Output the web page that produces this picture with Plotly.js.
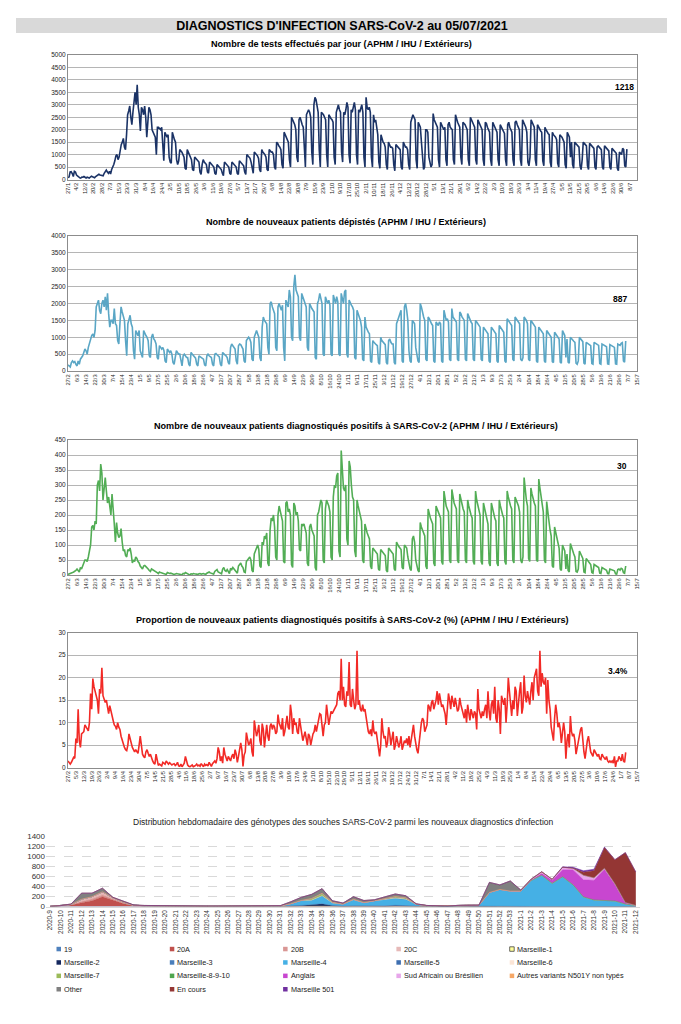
<!DOCTYPE html>
<html><head><meta charset="utf-8">
<script src="https://cdn.plot.ly/plotly-3.0.1.min.js"></script>
<style>html,body{margin:0;padding:0;background:#fff}#chart{width:681px;height:1024px}</style>
</head><body><div id="chart"></div>
<script>
// ---------- DATA ----------
const testsStart = '2020-01-27';
const tests = [
80,100,300,310,240,120,330, 300,180,120,110,70,60,100, 90,120,80,60,90,70,60, 100,130,110,90,70,120,150,
200,210,180,170,190,150,250, 350,380,300,250,330,220,400, 480,600,750,950,1000,800,900, 1200,1400,1500,1650,1300,1200,1800,
2600,2750,2950,2500,2200,2700,3000, 3500,3000,3800,2900,2600,1950,2900, 2800,2600,2950,2500,1700,2300,2900, 2800,2600,2000,1900,1800,1700,1000,
2100,2100,2050,2000,2100,1100,750, 1900,1800,1700,1800,900,700,650, 1900,1700,1600,1500,800,600,750, 1200,1150,1100,1000,900,450,400,
1200,1100,1000,900,800,400,350, 900,850,800,750,700,300,200, 600,800,700,650,600,300,250, 700,650,600,550,500,250,200,
600,550,500,450,400,250,150, 700,650,600,550,500,250,200, 700,650,600,550,500,250,200, 750,700,650,600,550,300,200,
1000,950,900,850,700,350,250, 1100,1050,1000,950,850,400,300, 1200,1100,1050,1000,900,400,350, 1200,1150,1100,1100,1000,500,400,
1500,1450,1350,1300,1200,600,450, 1900,1800,1700,1650,1500,800,500, 2500,2400,2300,2200,2000,900,700, 2400,2500,2300,2200,2100,1000,500,
2600,2700,2800,2700,2500,1100,600, 3000,3300,3200,2900,2700,1200,500, 2700,2650,2600,2500,2400,1000,500, 2600,2500,2450,2400,2300,900,600,
2700,2900,3000,2800,2700,1100,700, 2700,2600,2800,3100,2900,1000,650, 2800,2700,2900,3100,2800,1000,600, 2800,2700,2900,3000,2700,900,500,
3300,2900,2800,2900,2700,900,500, 2600,2300,2400,2000,1800,700,450, 1800,1600,1500,1450,1300,600,400, 1500,1400,1300,1300,1250,600,350,
1400,1350,1300,1250,1200,500,400, 1500,1400,1300,1300,1200,600,400, 2300,2500,2600,2500,2400,800,450, 2300,2200,2100,1500,800,400,500,
2000,2000,1900,900,700,500,600, 2650,2400,2300,2200,2100,800,500, 2300,2200,2100,2000,2100,800,550, 2200,2300,2100,2050,2000,800,600,
2600,2400,2300,2200,2100,900,600, 2300,2250,2200,2100,2000,800,550, 2500,2400,2300,2200,2100,800,600, 2400,2300,2200,2100,2000,800,550,
2300,2250,2100,2000,1900,800,550, 2300,2200,2100,2000,1900,800,550, 2200,2100,2000,1950,1850,800,550, 2200,2300,2100,2000,1900,800,550,
2300,2350,2200,2100,2000,800,550, 2400,2300,2200,2100,1900,700,550, 900,2400,2300,2200,2100,800,550, 2200,2100,2000,1950,1900,750,550,
2100,2000,1900,1850,1800,700,500, 1900,1800,1750,1700,1600,650,500, 1800,1750,1700,1600,1500,600,450, 1900,1800,1700,900,1500,600,450,
1500,1450,1400,1350,1300,550,400, 800,1500,1450,1400,1350,550,400, 1450,1400,1350,1300,1250,500,400, 1300,1350,1300,1250,1200,500,400,
1350,1300,1250,1200,1150,500,400, 1250,1200,1150,1100,1050,450,350, 1100,1050,1000,1250,1200,550,500,
1218];

const dailyStart = '2020-02-27';
const patients = [
180,150,120,250,
300,250,280,200,150,300,200, 350,400,450,550,650,600,500, 700,850,950,1050,1100,1000,1200, 1900,2000,2100,1800,1700,2000,2100,
1900,2200,1800,2300,1700,1300,1500, 1500,1400,1850,1400,1350,900,800, 1400,1900,1750,1600,1500,900,450, 1400,1500,1650,1400,1300,600,350,
1200,1100,1050,1200,600,500,400, 1200,1100,1050,1000,900,450,400, 1000,1100,950,900,800,400,350, 750,700,650,700,600,300,250,
650,600,550,600,500,250,200, 400,600,550,500,500,250,150, 450,500,450,400,400,200,150, 550,500,450,400,380,200,150,
450,420,400,380,350,180,150, 450,500,450,420,400,200,150, 500,520,480,450,420,200,150, 550,500,480,450,400,250,200,
700,800,750,700,650,300,200, 750,800,780,700,650,300,250, 900,950,1000,950,850,350,300, 1000,1150,1200,1100,1000,400,300,
1300,1600,1500,1450,1400,700,500, 2000,2050,1900,1800,1700,700,600, 1900,2000,1900,1800,1950,700,300, 2100,2000,1900,2400,2200,1000,900,
2500,2850,2400,2300,2200,1000,900, 2300,2200,2100,2000,1900,700,600, 2000,1900,1850,1800,1750,400,350, 2000,2100,2300,2100,2000,500,450,
2200,2100,2000,2100,1950,500,450, 2250,2100,2000,2200,2050,500,450, 2300,2100,2000,2350,2400,500,400, 2100,2000,1950,1900,1800,400,350,
1800,1700,1600,1500,1300,350,300, 1600,1300,1200,1150,1100,300,250, 900,850,800,780,750,250,200, 1000,900,850,800,780,250,200,
900,950,850,800,800,250,200, 1400,1500,1600,1700,1800,300,250, 1900,2000,1800,1500,600,300,250, 1500,1450,1400,700,400,300,250,
2000,1900,1700,1600,1500,350,300, 1600,1550,1450,1400,1350,300,250, 1450,1400,1350,1450,1400,300,250, 1800,1600,1500,1550,1450,350,300,
1850,1600,1550,1500,1450,350,300, 1750,1700,1600,1550,1500,350,300, 1700,1600,1500,1450,1400,350,300, 1500,1450,1400,1350,1300,350,300,
1300,1250,1200,1150,1100,300,250, 1300,1250,1200,1150,1100,300,250, 1350,1300,1250,1200,1150,300,250, 1550,1500,1450,1400,1350,350,300,
1600,1550,1500,1450,1400,350,300, 400,1600,1550,1500,1400,350,300, 1500,1450,1400,1350,1300,300,250, 1300,1250,1200,1150,1100,300,250,
1200,1150,1100,1050,1000,280,250, 1150,1100,1050,1000,950,260,230, 1200,1100,1050,400,950,260,230, 1000,950,900,880,850,230,200,
300,1000,950,900,870,230,200, 850,820,800,780,750,220,200, 850,820,800,780,760,220,200, 800,780,760,740,720,210,200,
780,760,740,720,700,210,200, 800,780,760,820,840,300,260,
887];

const positives = [
2,3,5,5,
8,10,12,15,20,15,10, 25,20,30,45,50,50,45, 60,80,100,160,165,150,180, 170,300,315,280,370,340,250,
300,325,280,240,260,220,200, 270,230,170,110,175,140,125, 130,155,110,80,85,65,60, 85,80,90,70,40,50,45,
60,55,45,40,30,25,20, 30,32,28,25,20,15,12, 20,18,15,12,10,8,5, 10,8,7,6,5,3,2,
8,6,5,6,4,3,2, 3,5,4,3,4,2,1, 5,4,8,5,3,2,1, 4,3,5,4,3,2,2,
4,5,3,4,5,3,2, 6,8,10,7,6,5,3, 12,15,18,10,8,5,4, 20,25,15,12,18,8,5,
22,18,25,20,15,8,6, 30,35,40,30,25,10,8, 45,50,55,60,50,15,10, 70,80,90,100,85,30,25,
110,100,130,120,140,40,30, 150,190,180,200,160,60,50, 200,230,210,190,180,45,40, 240,245,210,220,200,35,25,
240,230,200,210,180,85,80, 170,165,170,150,140,40,30, 160,170,150,140,130,25,15, 200,210,230,250,240,50,40,
220,250,240,230,210,60,50, 260,300,290,330,340,80,60, 415,330,290,280,300,120,100, 380,360,300,260,250,80,60,
250,230,210,200,180,50,40, 170,150,140,130,120,30,20, 90,85,80,75,70,20,15, 85,80,75,70,65,15,10,
90,85,80,75,70,20,15, 110,100,95,90,85,25,20, 100,95,90,60,30,20,15, 120,130,110,50,30,15,10,
175,160,150,140,130,30,20, 220,200,190,180,170,40,30, 230,220,210,200,190,45,35, 280,250,230,220,210,50,40,
285,260,240,230,220,50,40, 270,250,230,220,210,50,40, 250,230,210,200,190,45,35, 280,250,230,210,200,45,35,
240,220,200,180,170,40,30, 240,220,200,190,180,40,30, 250,230,210,200,190,45,35, 280,260,240,230,220,50,40,
260,250,240,230,210,50,40, 60,325,280,250,230,55,45, 290,270,250,240,230,50,45, 320,290,260,230,210,50,40,
245,220,180,150,130,30,25, 160,140,120,100,90,20,15, 100,90,80,20,70,15,10, 105,90,80,70,60,12,10,
20,80,70,60,55,10,8, 55,50,45,40,35,8,6, 35,32,30,28,25,6,5, 25,22,20,18,16,5,4,
20,18,16,15,14,4,3, 18,20,16,22,20,8,6,
30];

const positivity = [
1.5,1.0,0.8,1.2,
2.0,2.3,2.1,6.5,5.5,13.0,6.0, 4.5,7.5,7.8,8.0,9.5,9.0,8.5, 8.2,10,16.5,13,19.8,18,17, 16,15,12,17.5,16.5,22.2,16,
15,14.5,15,13.5,12,13.8,12.5, 12,10.5,9.5,9.2,8.5,10,9, 8.5,7,6,5,4.5,4,3.8, 5,7.5,6.5,5,4.5,4,3.5,
4,3.5,3.2,5,7,5,3, 2.5,2.2,3.5,4,3.2,2.5,3, 2,1.5,1,0.8,3,1.2,0.5, 0.8,0.5,0.4,1.2,1,0.8,1.5,
1,0.8,1.1,0.9,0.6,0.8,0.9, 0.5,0.7,1.2,0.4,0.3,0.8,0.2, 0.6,1,2.5,1.5,0.6,0.3,0.2, 0.4,0.6,0.2,0.3,0.5,0.8,0.4,
0.6,0.3,0.9,0.5,0.2,0.8,0.5, 0.7,0.4,1.2,0.6,0.3,0.9,1.1, 1.5,1,2,4.5,3.5,1.5,2.5, 1,4.5,3,2,1.5,2.5,1.8,
1.5,2.5,3,2,4,3,1.2, 2.5,4,5.5,4,0.3,2.8,3.5, 7.8,6,5,5.5,6.5,3.5,2.5, 10.5,9,7,8,9.5,6,5,
9.8,8.5,4.5,8,9.5,7,6, 9.2,9.8,8.5,9.5,9,7.5,8, 11.8,10,9,8.5,11,7,8, 10,11.5,9,8.5,14,12,7.5,
11,9.5,10,8,7.5,11,9, 7.5,6,7,8,6.5,5,7.5, 7,5,6.5,7.5,8,9.5,8, 9.5,10,12,11.8,8.5,7,9.5,
10,14,12,9.5,11,12.5,12, 12.5,13,13.5,14,16.5,17,15, 24.2,15,18,14,13.5,17,16, 23.5,14,13.5,17.5,15,13,14,
26,14,15,13,12.5,14,12.5, 13,11,9,8,7.5,8.5,7, 10.5,8,7.5,8,6.5,5,2.5, 5,11,8,6.5,7,4.5,5.5,
9,7.5,5,6.5,8,4,5, 7,6,4.5,5.5,7,4,5, 6,5.5,6.5,5,7,4.5,6, 8,9.5,7,5,4,3.2,6,
9,10,11,10.5,8,9,9.5, 14,13.5,12.5,14.5,15,13,14, 15,17,14,16.5,15,13.5,14, 13,12,9.5,14,16.5,15,13,
16,14.5,13.5,15.5,14,12.5,13, 15.5,14,13,12,11,13,10, 14,12,10.5,13,12,11,12.5, 12,8.5,17.5,13,12,11,12.5,
11.5,13,14,11,17,12.5,10.5, 14,15,12,18,11,10,15, 13,7.5,16,15,14,15.5,10, 14,20,17,13,11.5,15,13,
18,17,11.5,15,17,19,12, 13.5,20.5,16,14.5,17,15,14, 17,19,15,20,21,22,17, 16,26,18,21,19,18.5,20,
12,19.5,15,13,9,7,6, 11,14,12,9,10,8.5,5.5, 7.5,10,8,2,6,7.5,4.5, 11.5,8,7,7.5,6,3,4.5,
5,7.5,8.5,9,6,3.5,2, 4.5,6,7,5,3.5,3,2.5, 4,3.5,3,2.5,3,2,1.8, 3,2.5,2,1.8,2.5,1.5,1.2,
1.5,1.2,1.5,1,2.5,0.2,1.5, 1.5,2.5,2,1.5,3,1.5,1.2,
3.4];

const lastLabels = ['1218', '887', '30', '3.4%'];

// weekly genotype distribution
const weeks = ['2020-9','2020-10','2020-11','2020-12','2020-13','2020-14','2020-15','2020-16','2020-17','2020-18',
'2020-19','2020-20','2020-21','2020-22','2020-23','2020-24','2020-25','2020-26','2020-27','2020-28',
'2020-29','2020-30','2020-31','2020-32','2020-33','2020-34','2020-35','2020-36','2020-37','2020-38',
'2020-39','2020-40','2020-41','2020-42','2020-43','2020-44','2020-45','2020-46','2020-47','2020-48',
'2020-49','2020-50','2020-51','2020-52','2020-53','2021-1','2021-2','2021-3','2021-4','2021-5',
'2021-6','2021-7','2021-8','2021-9','2021-10','2021-11','2021-12'];
const g19     = [0,2,5,5,5,3,2,0,0,0, 0,0,0,0,0,0,0,0,0,0, 0,0,0,0,0,0,0,0,0,0, 0,0,0,0,0,0,0,0,0,0, 0,0,0,0,0,0,0,0,0,0, 0,0,0,0,0,0,0];
const g20A    = [3,10,25,70,110,190,130,60,15,8, 5,2,5,2,2,2,2,2,2,2, 5,5,5,8,10,10,8,5,5,5, 5,5,5,5,5,5,3,3,2,3, 3,3,5,5,3,2,0,0,0,0, 0,0,0,0,0,0,0];
const g20B    = [0,3,5,30,40,40,20,10,5,5, 4,3,4,2,2,2,2,2,2,3, 5,5,4,3,3,3,3,2,2,2, 2,2,2,2,2,2,5,5,2,5, 3,3,2,2,2,0,0,0,0,0, 0,0,0,0,0,0,0];
const g20C    = [0,2,5,40,40,60,20,15,5,3, 3,2,4,2,2,2,2,2,2,3, 4,4,4,3,3,3,3,2,2,2, 2,2,2,2,2,2,5,5,2,5, 3,3,2,2,2,0,0,0,0,0, 0,0,0,0,0,0,0];
const mars1   = [0,0,0,0,0,0,0,0,0,0, 0,0,0,0,0,0,0,0,0,0, 0,0,0,0,0,0,0,0,0,0, 0,0,0,0,0,0,0,0,0,2, 2,0,0,0,0,0,0,0,0,0, 0,0,0,0,0,0,0];
const mars2   = [0,0,0,0,0,0,0,0,0,0, 0,0,0,0,0,0,0,0,0,0, 0,0,0,0,5,20,40,10,0,5, 0,0,0,10,5,0,0,0,0,0, 0,0,0,0,0,0,0,0,0,0, 0,0,0,0,0,0,0];
const mars3   = [0,0,0,0,0,0,0,0,0,0, 0,0,0,0,0,0,0,0,0,0, 0,0,0,0,0,0,0,0,0,0, 0,0,5,5,0,0,0,0,0,0, 0,0,0,0,0,0,0,0,0,0, 0,0,0,0,0,0,0];
const mars4   = [0,0,0,0,0,0,0,0,0,0, 0,0,0,0,0,0,0,0,0,0, 0,0,0,40,100,90,160,50,40,120, 60,100,130,140,130,35,5,5,0,5, 15,15,270,330,300,300,520,620,460,590, 430,190,130,120,110,50,20];
const mars5   = [0,0,0,0,0,0,0,0,0,0, 0,0,0,0,0,0,0,0,0,0, 0,0,0,0,0,0,0,0,0,0, 5,5,5,0,0,0,0,0,0,0, 0,0,0,0,0,0,0,0,0,0, 0,0,0,0,0,0,0];
const mars6   = [0,0,0,0,0,0,0,0,0,0, 0,0,0,0,0,0,0,0,0,0, 0,0,0,0,0,0,0,0,0,0, 0,0,0,5,5,0,0,0,0,0, 0,0,0,0,0,0,0,0,0,0, 0,0,0,0,0,0,0];
const mars7   = [0,0,0,0,0,0,0,0,0,0, 0,0,0,0,0,0,0,0,0,0, 0,0,0,0,0,25,35,10,0,10, 5,0,10,20,15,0,0,0,0,0, 0,0,0,0,0,0,0,0,0,0, 0,0,0,0,0,0,0];
const mars8   = [0,0,0,0,0,0,0,0,0,0, 0,0,0,0,0,0,0,0,0,0, 0,0,0,0,0,10,15,5,0,0, 0,0,0,10,10,0,0,0,0,0, 0,0,0,0,0,0,0,0,0,0, 0,0,0,0,0,0,0];
const anglais = [0,0,0,0,0,0,0,0,0,0, 0,0,0,0,0,0,0,0,0,0, 0,0,0,0,0,0,0,0,0,0, 0,0,0,0,0,0,0,0,0,0, 0,0,0,0,0,5,10,40,60,140, 300,340,390,620,330,30,5];
const sudAf   = [0,0,0,0,0,0,0,0,0,0, 0,0,0,0,0,0,0,0,0,0, 0,0,0,0,0,0,0,0,0,0, 0,0,0,0,0,0,0,0,0,0, 0,0,0,0,0,0,0,10,10,40, 30,90,50,20,10,0,0];
const autres  = [0,0,0,0,0,0,0,0,0,0, 0,0,0,0,0,0,0,0,0,0, 0,0,0,0,0,0,0,0,0,0, 0,0,0,0,0,0,0,0,0,0, 0,0,0,0,0,0,10,20,10,10, 0,0,0,0,0,0,0];
const other   = [0,0,10,120,70,70,10,15,5,5, 5,2,5,2,2,2,2,2,2,2, 3,3,3,40,60,80,90,30,20,50, 40,20,30,50,40,10,3,3,2,3, 3,3,200,90,200,20,5,0,0,0, 0,0,0,0,0,0,0];
const enCours = [0,0,0,0,0,0,0,0,0,0, 0,0,0,0,0,0,0,0,0,0, 0,0,0,0,0,0,0,0,0,0, 0,0,0,0,0,0,0,0,0,0, 0,0,0,0,0,0,0,0,0,0, 0,60,140,410,480,990,660];
const m501    = [0,0,0,0,0,0,0,0,0,0, 0,0,0,0,0,0,0,0,0,0, 0,0,0,0,0,0,0,0,0,0, 0,0,0,0,0,0,0,0,0,0, 0,0,0,0,0,0,0,0,0,10, 20,30,30,10,0,0,0];

const genoNames  = ['19','20A','20B','20C','Marseille-1','Marseille-2','Marseille-3','Marseille-4','Marseille-5','Marseille-6',
  'Marseille-7','Marseille-8-9-10','Anglais','Sud Africain ou Brésilien','Autres variants N501Y non typés','Other','En cours','Marseille 501'];
const genoValues = [g19,g20A,g20B,g20C,mars1,mars2,mars3,mars4,mars5,mars6,mars7,mars8,anglais,sudAf,autres,other,enCours,m501];
const genoColors = ['#4f81bd','#c0504d','#d99694','#e6b9b8','#ffff99','#14275e','#4a7ebb','#45b0e5','#3d6eb0','#fbe5d6',
  '#9bbb59','#4ea64e','#c846d0','#e7a6ea','#f6a766','#808080','#943634','#7030a0'];

// ---------- LAYOUT HELPERS ----------
const W = 681, H = 1024;
const px = x => x / W, py = y => 1 - y / H;
const FN = '"Liberation Sans", Arial, sans-serif';
const FR = '"Liberation Sans", Arial, sans-serif';
function dates(start, n) {
  const t0 = Date.parse(start + 'T00:00:00Z');
  return Array.from({length: n}, (_, i) => new Date(t0 + i * 864e5).toISOString().slice(0, 10));
}
const DAY = 864e5;

const panels = [
  {y: tests, start: testsStart, color: '#1b3366', top: 55, bot: 179.5, ymax: 5000, dy: 500, tick0: '2020-01-27', step: 8, r0: '2020-01-27', r1: '2021-07-14 12:00', title: 'Nombre de tests effectués par jour (APHM / IHU / Extérieurs)', ty: 44, tx: 341, ly: 87, lx: 636},
  {y: patients, start: dailyStart, color: '#5aa6c5', top: 236, bot: 371, ymax: 4000, dy: 500, tick0: '2020-02-27', step: 8, r0: '2020-02-27', r1: '2021-07-15', title: 'Nombre de nouveaux patients dépistés (APHM / IHU / Extérieurs)', ty: 222, tx: 346, ly: 299, lx: 629},
  {y: positives, start: dailyStart, color: '#52ad55', top: 440, bot: 575, ymax: 450, dy: 50, tick0: '2020-02-27', step: 8, r0: '2020-02-27', r1: '2021-07-15', title: 'Nombre de nouveaux patients diagnostiqués positifs à SARS-CoV-2 (APHM / IHU / Extérieurs)', ty: 426, tx: 356, ly: 466, lx: 629},
  {y: positivity, start: dailyStart, color: '#f22a26', top: 632.7, bot: 767.7, ymax: 30, dy: 5, tick0: '2020-02-27', step: 7, r0: '2020-02-27', r1: '2021-07-15', title: 'Proportion de nouveaux patients diagnostiqués positifs à SARS-CoV-2 (%) (APHM / IHU / Extérieurs)', ty: 620, tx: 352, ly: 671, lx: 630}
];
const L = 68, R = 637;

const data = [], annotations = [], shapes = [];
const layout = {
  width: W, height: H, margin: {l: 0, r: 0, t: 0, b: 0},
  paper_bgcolor: '#fff', plot_bgcolor: '#fff', showlegend: false,
  font: {family: FN, color: '#000'},
  title: {text: "<b>DIAGNOSTICS D'INFECTION SARS-CoV-2 au 05/07/2021</b>", x: px(342), xanchor: 'center', y: py(26), yanchor: 'middle', yref: 'paper',
          font: {family: FN, size: 12.5, color: '#000'}}
};
shapes.push({type: 'rect', xref: 'paper', yref: 'paper', x0: px(16), x1: px(667), y0: py(33), y1: py(18), fillcolor: '#d9d9d9', line: {width: 0}, layer: 'below'});

panels.forEach((p, i) => {
  const k = i + 1, sfx = (k === 1 ? '' : String(k));
  data.push({x: dates(p.start, p.y.length), y: p.y, type: 'scatter', mode: 'lines', xaxis: 'x' + sfx, yaxis: 'y' + sfx,
    line: {color: p.color, width: 1.6}, showlegend: false, hoverinfo: 'skip'});
  layout['xaxis' + sfx] = {domain: [px(L), px(R)], anchor: 'y' + sfx, type: 'date', range: [p.r0, p.r1],
    tick0: p.tick0, dtick: p.step * DAY, tickformat: '%-d/%-m', tickangle: -90, tickfont: {family: FN, size: 5.8, color: '#222'},
    showgrid: false, showline: true, mirror: true, linecolor: '#8c8c8c', linewidth: 1, ticks: '', zeroline: false, fixedrange: true};
  layout['yaxis' + sfx] = {domain: [py(p.bot), py(p.top)], anchor: 'x' + sfx, range: [0, p.ymax], dtick: p.dy, tick0: 0,
    tickfont: {family: FN, size: 6.5, color: '#222'}, showgrid: true, gridcolor: '#b5b5b5', gridwidth: 1,
    showline: true, mirror: true, linecolor: '#8c8c8c', ticks: '', zeroline: false, fixedrange: true};
  annotations.push({xref: 'paper', yref: 'paper', x: px(p.tx), y: py(p.ty), xanchor: 'center', yanchor: 'middle', showarrow: false,
    text: '<b>' + p.title + '</b>', font: {family: FN, size: 9.1, color: '#000'}});
  annotations.push({xref: 'paper', yref: 'paper', x: px(p.lx), y: py(p.ly), xanchor: 'right', yanchor: 'middle', showarrow: false,
    text: '<b>' + lastLabels[i] + '</b>', font: {family: FN, size: 8.5, color: '#000'}});
});

// genotype stacked area chart
genoNames.forEach((n, j) => {
  data.push({x: weeks, y: genoValues[j], name: n, type: 'scatter', mode: 'lines', stackgroup: 'g', xaxis: 'x5', yaxis: 'y5',
    line: {width: 0.5, color: genoColors[j]}, fillcolor: genoColors[j], hoverinfo: 'skip', showlegend: false});
  // legend entry (5 columns, like the original sheet)
  const r = Math.floor(j / 5), c = j % 5;
  const lx = 56.5 + c * 113.3, ly = 949 + r * 13.4;
  shapes.push({type: 'rect', xref: 'paper', yref: 'paper', x0: px(lx), x1: px(lx + 4.5), y0: py(ly + 2.3), y1: py(ly - 2.2),
    fillcolor: genoColors[j], line: {width: n === 'Marseille-1' ? 0.8 : 0, color: '#444'}});
  annotations.push({xref: 'paper', yref: 'paper', x: px(lx + 5.5), y: py(ly), xanchor: 'left', yanchor: 'middle', showarrow: false,
    text: n, font: {family: FR, size: 7.3, color: '#222'}});
});
layout.xaxis5 = {domain: [px(46), px(640)], anchor: 'y5', type: 'category', range: [-0.4, weeks.length - 0.6],
  tickangle: -90, tickfont: {family: FR, size: 6.5, color: '#333'}, showgrid: false, showline: true, linecolor: '#d9d9d9', ticks: '', fixedrange: true};
layout.yaxis5 = {domain: [py(906.5), py(836)], anchor: 'x5', range: [0, 1400], dtick: 200, tickfont: {family: FR, size: 8, color: '#333'},
  showgrid: true, gridcolor: '#d9d9d9', griddash: 'dash', showline: false, ticks: '', zeroline: false, fixedrange: true};
annotations.push({xref: 'paper', yref: 'paper', x: px(343), y: py(822), xanchor: 'center', yanchor: 'middle', showarrow: false,
  text: "Distribution hebdomadaire des génotypes des souches SARS-CoV-2 parmi les nouveaux diagnostics d'infection", font: {family: FR, size: 8.5, color: '#222'}});

layout.annotations = annotations;
layout.shapes = shapes;
Plotly.newPlot('chart', data, layout, {staticPlot: true, displayModeBar: false});
</script></body></html>
